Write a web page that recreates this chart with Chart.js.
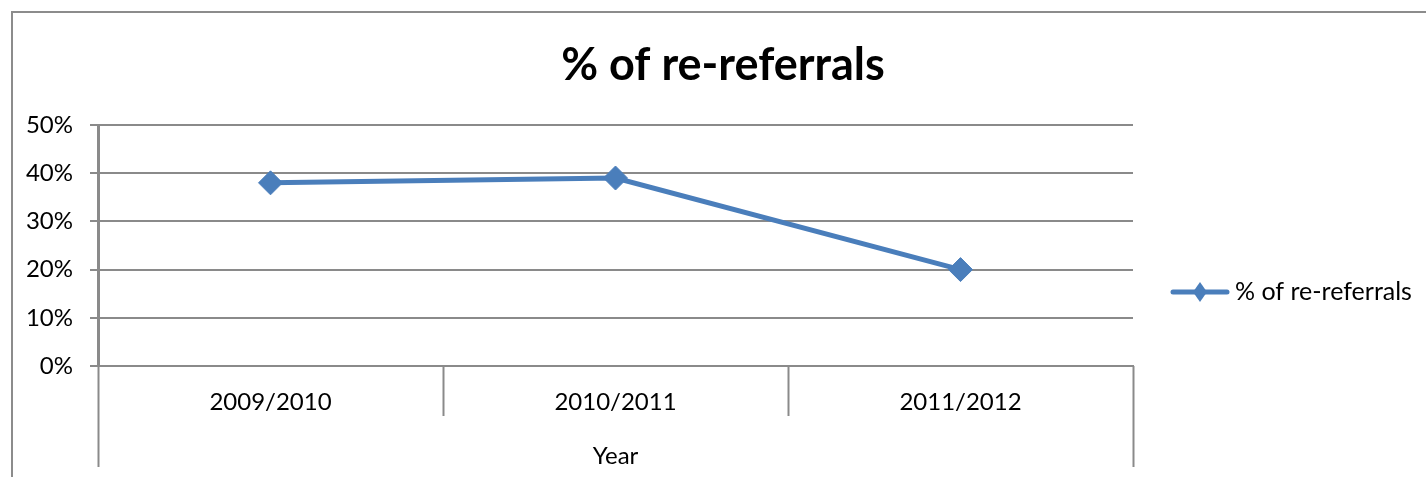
<!DOCTYPE html>
<html>
<head>
<meta charset="utf-8">
<script src="https://cdn.jsdelivr.net/npm/chart.js@4"></script>
<style>
  html, body { margin: 0; padding: 0; background: #fff; }
  canvas { display: block; }
</style>
</head>
<body>
<canvas id="chart" width="1426" height="477"></canvas>
<script>
// ── Data ──────────────────────────────────────────────────────────────────────

const TITLE        = '% of re-referrals';
const SERIES_LABEL = '% of re-referrals';
const AXIS_TITLE   = 'Year';
const YEARS        = ['2009/2010', '2010/2011', '2011/2012'];
const RE_REFERRALS = [38, 39, 20];          // percent
const Y_MIN = 0, Y_MAX = 50, Y_STEP = 10;

// ── Style ─────────────────────────────────────────────────────────────────────

const LINE_BLUE = '#4a7ebb';
const GRID_GREY = '#8a8a8a';
const FONT = 'Lato, "Open Sans", sans-serif';

Chart.defaults.font.family = FONT;
Chart.defaults.color = '#000';

// Excel-ish extras: outer frame, category separators under the axis, legend
const excelDecor = {
  id: 'excelDecor',
  afterDraw(chart) {
    const { ctx, chartArea: a, scales } = chart;
    const x = scales.x;
    ctx.save();

    // outer chart frame (top + left edge)
    ctx.strokeStyle = '#8c8c8c';
    ctx.lineWidth = 2;
    ctx.beginPath();
    ctx.moveTo(12, chart.height);
    ctx.lineTo(12, 12);
    ctx.lineTo(chart.width, 12);
    ctx.stroke();

    // category boundaries below the axis
    ctx.strokeStyle = GRID_GREY;
    ctx.lineWidth = 2;
    const n = YEARS.length;
    const step = (a.right - a.left) / n;
    for (let i = 0; i <= n; i++) {
      const px = Math.round(a.left + i * step) + 0.5;
      const outer = i === 0 || i === n;
      ctx.beginPath();
      ctx.moveTo(px, a.bottom);
      ctx.lineTo(px, outer ? x.bottom - 10 : a.bottom + 50);
      ctx.stroke();
    }

    // legend: line with diamond + label
    const ds = chart.data.datasets[0];
    const ly = Math.round((a.top + a.bottom) / 2) + 46;
    const lx = a.right + 40;
    ctx.strokeStyle = ds.borderColor;
    ctx.lineWidth = ds.borderWidth;
    ctx.lineCap = 'round';
    ctx.beginPath();
    ctx.moveTo(lx, ly);
    ctx.lineTo(lx + 54, ly);
    ctx.stroke();
    ctx.fillStyle = ds.pointBackgroundColor;
    ctx.beginPath();
    ctx.moveTo(lx + 27, ly - 10);
    ctx.lineTo(lx + 34, ly);
    ctx.lineTo(lx + 27, ly + 10);
    ctx.lineTo(lx + 20, ly);
    ctx.closePath();
    ctx.fill();
    ctx.fillStyle = '#000';
    ctx.font = '25px ' + FONT;
    ctx.textBaseline = 'middle';
    ctx.textAlign = 'left';
    ctx.fillText(ds.label, lx + 62, ly);

    ctx.restore();
  },
};

new Chart(document.getElementById('chart'), {
  type: 'line',
  data: {
    labels: YEARS,
    datasets: [{
      label: SERIES_LABEL,
      data: RE_REFERRALS,
      borderColor: LINE_BLUE,
      backgroundColor: LINE_BLUE,
      pointBackgroundColor: LINE_BLUE,
      pointBorderColor: LINE_BLUE,
      borderWidth: 5,
      pointStyle: 'rectRot',
      pointRadius: 12,
      pointBorderWidth: 1,
      tension: 0,
      fill: false,
    }],
  },
  options: {
    responsive: false,
    animation: false,
    layout: { padding: { left: 20, right: 0, top: 0, bottom: 0 } },
    plugins: {
      legend: { display: false },
      tooltip: { enabled: false },
      title: {
        display: true,
        text: TITLE,
        font: { size: 45, weight: 'bold' },
        color: '#000',
        padding: { top: 38, bottom: 33 },
      },
    },
    scales: {
      x: {
        type: 'category',
        offset: true,
        grid: { display: false, drawTicks: false },
        border: { display: true, color: GRID_GREY, width: 2 },
        ticks: { font: { size: 24 }, padding: 22, maxRotation: 0 },
        title: { display: true, text: AXIS_TITLE, font: { size: 24 }, padding: { top: 0, bottom: 6 } },
        afterFit: s => { s.height = 111; },
      },
      y: {
        min: Y_MIN,
        max: Y_MAX,
        ticks: {
          stepSize: Y_STEP,
          font: { size: 24 },
          padding: 17,
          callback: v => v + '%',
        },
        grid: { color: GRID_GREY, lineWidth: 2, tickLength: 8 },
        border: { color: GRID_GREY, width: 3 },
        afterFit: s => { s.width = 78; },
      },
      // empty right-hand axis reserving room for the legend
      yLegend: {
        type: 'linear',
        position: 'right',
        grid: { display: false, drawTicks: false },
        border: { display: false },
        ticks: { display: false },
        afterFit: s => { s.width = 293; },
      },
    },
  },
  plugins: [excelDecor],
});
</script>
</body>
</html>
